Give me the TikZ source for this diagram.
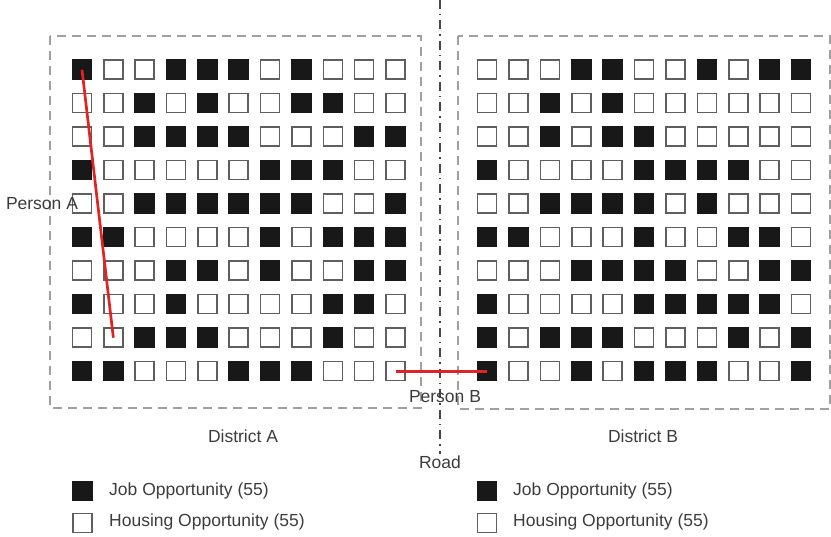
\documentclass[tikz,border=0pt]{standalone}
\usepackage{fontspec}
\setmainfont{Liberation Sans}
\begin{document}
\begin{tikzpicture}[x=1pt,y=-1pt,
  sq1/.style={fill={rgb,255:red,24;green,24;blue,24}, draw=none, minimum size=20.6pt, inner sep=0pt, outer sep=0pt},
  sq0/.style={fill=white, draw={rgb,255:red,95;green,95;blue,95}, line width=1.6pt, minimum size=19pt, inner sep=0pt, outer sep=0pt},
  districtbox/.style={draw={rgb,255:red,160;green,160;blue,160}, line width=1.1pt, dash pattern=on 9pt off 6pt},
  lbl/.style={font=\fontsize{17.5}{20}\selectfont, text={rgb,255:red,60;green,60;blue,60}, inner sep=1pt},
  route/.style={draw={rgb,255:red,225;green,35;blue,35}, line width=2.7pt},
  roadline/.style={draw={rgb,255:red,70;green,70;blue,70}, line width=1.3pt, dash pattern=on 9pt off 5pt on 1.5pt off 5pt}]
\useasboundingbox (0,0) rectangle (831,537);
% district boxes
\draw[districtbox] (50,36) rectangle (421,408);
\draw[districtbox] (458,36) rectangle (830,409);
% grid A
\foreach \pat [count=\r] in {
  {1,0,0,1,1,1,0,1,0,0,0},
  {0,0,1,0,1,0,0,1,1,0,0},
  {0,0,1,1,1,1,0,0,0,1,1},
  {1,0,0,0,0,0,1,1,1,0,0},
  {0,0,1,1,1,1,1,1,0,0,1},
  {1,1,0,0,0,0,1,0,1,1,1},
  {0,0,0,1,1,0,1,0,0,1,1},
  {1,0,0,1,0,0,0,0,1,1,0},
  {0,0,1,1,1,0,0,0,1,0,0},
  {1,1,0,0,0,1,1,1,0,0,0}} {
  \foreach \v [count=\c] in \pat {
    \node[sq\v] (a-\r-\c) at ({82+(\c-1)*31.35},{69.7+(\r-1)*33.5}) {};
  }
}
% grid B
\foreach \pat [count=\r] in {
  {0,0,0,1,1,0,0,1,0,1,1},
  {0,0,1,0,1,0,0,0,0,0,0},
  {0,0,1,0,1,1,0,0,0,0,0},
  {1,0,0,0,0,1,1,1,1,0,0},
  {0,0,1,1,1,1,0,1,0,0,0},
  {1,1,0,0,0,1,0,0,1,1,0},
  {0,0,0,1,1,1,1,0,0,1,1},
  {1,0,0,0,0,1,1,1,1,1,0},
  {1,0,1,1,1,0,0,0,1,0,1},
  {1,0,0,1,0,1,1,1,0,0,1}} {
  \foreach \v [count=\c] in \pat {
    \node[sq\v] (b-\r-\c) at ({487+(\c-1)*31.4},{69.7+(\r-1)*33.5}) {};
  }
}
% road
\coordinate (roadtop) at (440,0);
\node[lbl] (road) at (440,462) {Road};
\draw[roadline] (roadtop) -- (road.north);
% labels
\node[lbl] (persA) at (42,204) {Person A};
\node[lbl] (persB) at (445,397) {Person B};
\node[lbl] (distA) at (243,436) {District A};
\node[lbl] (distB) at (643,436) {District B};
% routes
\draw[route] (a-1-1.center) -- (a-9-2.center);
\draw[route] (a-10-11.center) -- (b-10-1.center);
% legends
\node[sq1, minimum width=20.6pt, minimum height=20pt] (legAjob) at (82.5,491) {};
\node[sq0] (legAhouse) at (82.5,523) {};
\node[lbl, anchor=west] (legAjobt) at (108,491) {Job Opportunity (55)};
\node[lbl, anchor=west] (legAhouset) at (108,522) {Housing Opportunity (55)};
\node[sq1, minimum width=20.6pt, minimum height=20pt] (legBjob) at (487,491) {};
\node[sq0] (legBhouse) at (487,523) {};
\node[lbl, anchor=west] (legBjobt) at (512,491) {Job Opportunity (55)};
\node[lbl, anchor=west] (legBhouset) at (512,522) {Housing Opportunity (55)};
\end{tikzpicture}
\end{document}
